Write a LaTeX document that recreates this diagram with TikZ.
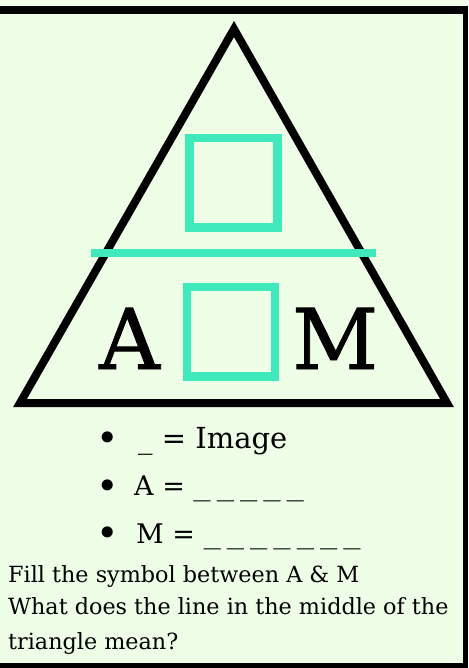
\documentclass[tikz,border=0pt]{standalone}
\usepackage{fontspec}
\setmainfont{DejaVu Serif}
\newfontfamily\heavyserif{DejaVu Serif}[FakeBold=1]
\usepackage{tikz}
\definecolor{mint}{RGB}{64,233,187}
\definecolor{paper}{RGB}{238,254,231}
\newcommand{\blanks}[1]{\foreach \k in {1,...,#1}{\scalebox{1.28}[1]{\_}\kern6pt}}

\begin{document}
\begin{tikzpicture}[x=1pt, y=-1pt, every node/.style={inner sep=0pt, anchor=base west}]
  \useasboundingbox (0,0) rectangle (468,668);

  % Background and frame
  \fill[paper] (0,0) rectangle (468,668);
  \fill[black] (0,6) rectangle (468,14);
  \fill[black] (463,6) rectangle (468,668);
  \fill[black] (0,663) rectangle (468,668);

  % Triangle
  \draw[line width=8pt, miter limit=10] (234,29) -- (20,403) -- (447,403) -- cycle;

  % Boxes and dividing bar
  \draw[mint, line width=8.5pt] (189.5,138) rectangle (277.5,227.5);
  \draw[mint, line width=8pt] (91,253) -- (376,253);
  \draw[mint, line width=8.3pt] (187,287) rectangle (275,376.5);

  % Letters
  \node (letterA) at (99,369) {\fontsize{84}{84}\heavyserif A};
  \node (letterM) at (292,369) {\fontsize{84}{84}\heavyserif M};

  % Bullet list
  \node[anchor=center] (dotImage) at (108,442) {\fontsize{38}{38}\selectfont •};
  \node (itemImage) at (138,448) {\fontsize{29}{29}\selectfont \_ = Image};
  \node[anchor=center] (dotA) at (108,490) {\fontsize{38}{38}\selectfont •};
  \node (itemA) at (134,495) {\fontsize{27}{27}\selectfont A = \blanks{5}};
  \node[anchor=center] (dotM) at (108,537) {\fontsize{38}{38}\selectfont •};
  \node (itemM) at (136,543) {\fontsize{27}{27}\selectfont M = \blanks{7}};

  % Questions
  \node (fillLine) at (8,582) {\fontsize{22.3}{22.3}\selectfont Fill the symbol between A \& M};
  \node (lineOne) at (8,614) {\fontsize{22.3}{22.3}\selectfont What does the line in the middle of the};
  \node (lineTwo) at (8,649) {\fontsize{22.3}{22.3}\selectfont triangle mean?};
\end{tikzpicture}
\end{document}
